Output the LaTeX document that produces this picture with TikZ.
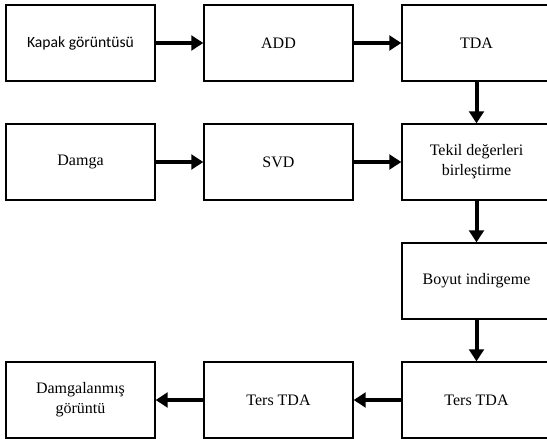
\documentclass[tikz,border=0pt]{standalone}
\usepackage{fontspec}
\setmainfont{Liberation Serif}
\newfontfamily\kapakfont{Carlito}
\usetikzlibrary{positioning,arrows.meta}

\tikzset{
  block/.style={draw, line width=1pt, minimum width=111.75pt, minimum height=57pt,
    align=center, inner sep=2pt, font=\fontsize{12}{15}\selectfont},
  flow/.style={line width=3pt, -{Triangle[length=9pt,width=11pt]}}
}

\begin{document}
\begin{tikzpicture}[x=0.75pt, y=0.75pt, node distance=89.25pt and 148.5pt, on grid]
\clip (0,0) rectangle (547,-439);
\node[block, font=\kapakfont\fontsize{11.75}{14}\selectfont] (kapak) at (80.5,-43) {Kapak görüntüsü};
\node[block]	(add)	[right=of kapak]	{ADD};
\node[block]	(tda)	[right=of add]		{TDA};
\node[block]	(damga)	[below=of kapak]	{Damga};
\node[block]	(svd)	[right=of damga]	{SVD};
\node[block]	(tekil)	[right=of svd]		{Tekil değerleri\\birleştirme};
\node[block]	(boyut)	[below=of tekil]	{Boyut indirgeme};
\node[block]	(ters)	[below=of boyut]	{Ters TDA};
\node[block]	(tersiki)	[left=of ters]	{Ters TDA};
\node[block]	(damgali)	[left=of tersiki]	{Damgalanmış\\görüntü};
\draw[flow] (kapak) -- (add);
\draw[flow] (add) -- (tda);
\draw[flow] (tda) -- (tekil);
\draw[flow] (damga) -- (svd);
\draw[flow] (svd) -- (tekil);
\draw[flow] (tekil) -- (boyut);
\draw[flow] (boyut) -- (ters);
\draw[flow] (ters) -- (tersiki);
\draw[flow] (tersiki) -- (damgali);
\end{tikzpicture}
\end{document}
